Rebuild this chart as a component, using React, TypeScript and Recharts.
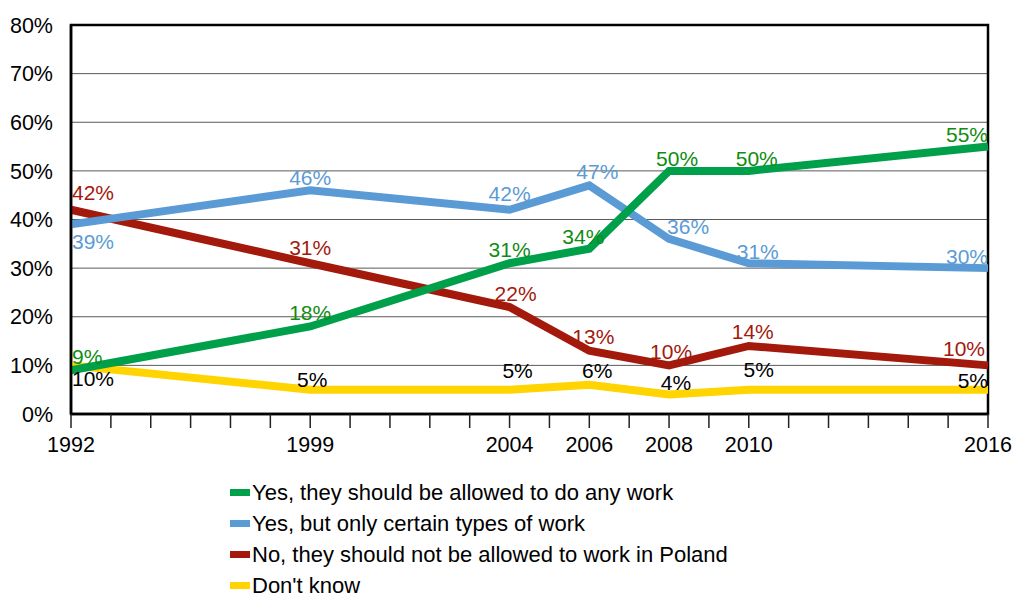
import React from 'react';
import { LineChart, Line, XAxis, YAxis, CartesianGrid, ReferenceArea, LabelList } from 'recharts';

// Category slots along the x axis (evenly spaced as in the reference); empty = minor tick only
const axisSlots = ['1992', '', '', '', '', '', '1999', '', '', '', '', '2004', '', '2006', '', '2008', '', '2010', '', '', '', '', '', '2016'];
const years = ['1992', '1999', '2004', '2006', '2008', '2010', '2016'];

const anyWork = [9, 18, 31, 34, 50, 50, 55];
const certainWork = [39, 46, 42, 47, 36, 31, 30];
const notAllowed = [42, 31, 22, 13, 10, 14, 10];
const dontKnow = [10, 5, 5, 6, 4, 5, 5];

const yTicks = [0, 10, 20, 30, 40, 50, 60, 70, 80];

const seriesNames = [
  'Yes, they should be allowed to do any work',
  'Yes, but only certain types of work',
  'No, they should not be allowed to work in Poland',
  "Don't know",
];
const lineColors = ['#00A04B', '#5B9BD5', '#A3190C', '#FFD400'];
const labelColors = ['#0F8C12', '#5B9BD5', '#A3190C', '#000000'];

// label placement per point: 'a' above, 'b' below
const placeAny = ['a', 'a', 'a', 'a', 'a', 'a', 'a'];
const placeCertain = ['b', 'a', 'a', 'a', 'a', 'a', 'a'];
const placeNot = ['a', 'a', 'a', 'a', 'a', 'a', 'a'];
const placeDont = ['b', 'a', 'a', 'a', 'a', 'a', 'a'];

// small label nudges (px) [dx, dy] per point
const nudgeAny = [[0, 0], [0, 0], [0, 0], [-6, 2], [8, 2], [8, 2], [0, 2]];
const nudgeCertain = [[0, 0], [0, 1], [0, -2], [8, 0], [19, 2], [9, 2], [0, 2]];
const nudgeNot = [[0, -3], [0, -2], [6, 0], [4, 0], [2, 0], [4, 0], [-3, -3]];
const nudgeDont = [[0, -4], [2, 4], [8, -5], [8, 0], [7, 2], [10, -6], [0, 5]];

const data = years.map((y, i) => ({
  slot: axisSlots.indexOf(y),
  year: y,
  anyWork: anyWork[i],
  certainWork: certainWork[i],
  notAllowed: notAllowed[i],
  dontKnow: dontKnow[i],
}));

const FONT = '"Liberation Sans", Arial, sans-serif';

const makeLabel = (color: string, place: string[], nudge: number[][]) => (props: any) => {
  const { x, y, value, index } = props;
  const n = years.length;
  const anchor = index === 0 ? 'start' : index === n - 1 ? 'end' : 'middle';
  const dx = (index === 0 ? 1 : 0) + nudge[index][0];
  const ty = (place[index] === 'b' ? y + 17 : y - 14) + nudge[index][1];
  return (
    <text
      x={x + dx}
      y={ty}
      textAnchor={anchor}
      dominantBaseline="central"
      fill={color}
      fontSize={21}
      fontFamily={FONT}
    >
      {value}%
    </text>
  );
};

const XTick = (props: any) => {
  const { x, y, payload } = props;
  const label = axisSlots[payload.value];
  if (!label) return null;
  return (
    <text x={x} y={y} dy="0.71em" textAnchor="middle" fontSize={21.5} fontFamily={FONT} fill="#000">
      {label}
    </text>
  );
};

export default function App() {
  const slotTicks = axisSlots.map((_, i) => i);
  return (
    <div style={{ position: 'absolute', left: 0, top: 0, width: 1013, height: 597, background: '#fff', fontFamily: FONT, overflow: 'hidden' }}>
      <LineChart width={1013} height={597} data={data} margin={{ top: 25, right: 25, left: 0, bottom: 143 }}>
        <CartesianGrid vertical={false} stroke="#5a5a5a" strokeWidth={1} />
        <ReferenceArea x1={0} x2={axisSlots.length - 1} y1={0} y2={80} fill="none" stroke="#000" strokeWidth={2.5} />
        <XAxis
          dataKey="slot"
          type="number"
          domain={[0, axisSlots.length - 1]}
          ticks={slotTicks}
          interval={0}
          tickSize={14}
          tickMargin={9}
          tickLine={{ stroke: '#222', strokeWidth: 1.5 }}
          axisLine={{ stroke: '#000', strokeWidth: 2.5 }}
          tick={<XTick />}
          height={40}
        />
        <YAxis
          domain={[0, 80]}
          ticks={yTicks}
          tickFormatter={(v: number) => `${v}%`}
          tickLine={false}
          tickSize={0}
          tickMargin={18}
          axisLine={{ stroke: '#000', strokeWidth: 2.5 }}
          width={71}
          tick={{ fill: '#000', fontSize: 21.5, fontFamily: FONT }}
        />
        <Line dataKey="dontKnow" stroke={lineColors[3]} strokeWidth={8} dot={false} isAnimationActive={false} strokeLinejoin="miter">
          <LabelList dataKey="dontKnow" content={makeLabel(labelColors[3], placeDont, nudgeDont)} />
        </Line>
        <Line dataKey="notAllowed" stroke={lineColors[2]} strokeWidth={8} dot={false} isAnimationActive={false} strokeLinejoin="miter">
          <LabelList dataKey="notAllowed" content={makeLabel(labelColors[2], placeNot, nudgeNot)} />
        </Line>
        <Line dataKey="certainWork" stroke={lineColors[1]} strokeWidth={8} dot={false} isAnimationActive={false} strokeLinejoin="miter">
          <LabelList dataKey="certainWork" content={makeLabel(labelColors[1], placeCertain, nudgeCertain)} />
        </Line>
        <Line dataKey="anyWork" stroke={lineColors[0]} strokeWidth={8} dot={false} isAnimationActive={false} strokeLinejoin="miter">
          <LabelList dataKey="anyWork" content={makeLabel(labelColors[0], placeAny, nudgeAny)} />
        </Line>
      </LineChart>
      <div style={{ position: 'absolute', left: 230, top: 477, fontSize: 22, fontFamily: FONT, color: '#000' }}>
        {seriesNames.map((name, i) => (
          <div key={name} style={{ display: 'flex', alignItems: 'center', height: 31, whiteSpace: 'nowrap' }}>
            <span style={{ display: 'inline-block', width: 20, height: 7, background: lineColors[i], marginRight: 2 }} />
            <span style={{ lineHeight: 1 }}>{name}</span>
          </div>
        ))}
      </div>
    </div>
  );
}
